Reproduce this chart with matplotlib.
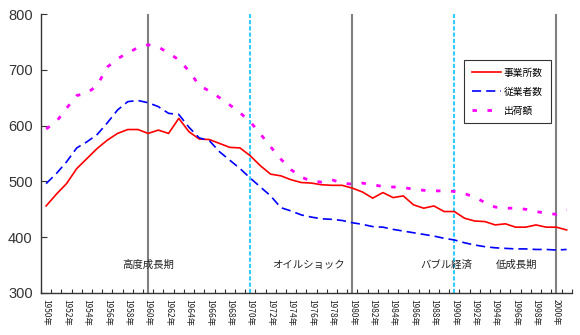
import numpy as np
import matplotlib
matplotlib.use("Agg")
import matplotlib.pyplot as plt
from matplotlib.ticker import FixedLocator, NullFormatter

plt.rcParams['font.family'] = ['Noto Sans CJK JP', 'DejaVu Sans']

# 1950-2001, one value per year
years = list(range(1950, 2002))

establishments = [
    456, 477, 496, 523, 541, 559, 574, 586, 593, 593,
    586, 592, 586, 613, 589, 576, 575, 568, 561, 560,
    546, 528, 513, 510, 503, 498, 497, 494, 493, 493,
    488, 481, 470, 480, 471, 474, 458, 452, 456, 446,
    446, 434, 429, 428, 422, 424, 418, 418, 422, 418,
    418, 413,
]
employees = [
    496, 514, 535, 560, 571, 584, 605, 628, 643, 645,
    641, 634, 622, 620, 597, 578, 573, 553, 538, 523,
    506, 490, 474, 453, 447, 440, 436, 433, 432, 430,
    426, 423, 419, 418, 414, 411, 408, 405, 402, 398,
    395, 390, 386, 383, 381, 380, 379, 379, 378, 378,
    377, 378,
]
shipments = [
    594, 607, 631, 654, 658, 672, 705, 720, 730, 740,
    745, 741, 730, 718, 698, 672, 662, 650, 637, 623,
    607, 585, 562, 540, 521, 508, 500, 499, 503, 497,
    495, 497, 494, 491, 490, 489, 486, 484, 483, 483,
    482, 478, 472, 462, 454, 452, 452, 450, 446, 443,
    441, 449,
]
series_labels = ["事業所数", "従業者数", "出荷額"]

era_years = [1960, 1970, 1980, 1990, 2000]
era_kinds = ["solid", "dashed", "solid", "dashed", "solid"]
era_names = ["高度成長期", "オイルショック", "バブル経済", "低成長期"]
era_label_x = [1960.0, 1975.7, 1989.2, 1996.1]
era_label_y = 350

y_ticks = [300, 400, 500, 600, 700, 800]


def draw_eras(ax):
    for yr, kind in zip(era_years, era_kinds):
        if kind == "solid":
            ax.axvline(yr, color="#808080", lw=1.5, zorder=1)
        else:
            ax.axvline(yr, color="#33CCFF", lw=1.5, ls=(0, (2.0, 1.0)), zorder=1)
    for name, x in zip(era_names, era_label_x):
        ax.text(x, era_label_y, name, ha="center", va="center",
                fontsize=7.5, color="#222222")


def draw_series(ax):
    ax.plot(years, establishments, color="#FF0000", lw=1.2,
            label=series_labels[0], zorder=3)
    ax.plot(years, employees, color="#0000FF", lw=1.2,
            ls=(0, (5.5, 3.0)), label=series_labels[1], zorder=3)
    ax.plot(years, shipments, color="#FF00FF", lw=2.0,
            ls=(0, (1.6, 3.8)), label=series_labels[2], zorder=3)


def style_axes(ax):
    ax.set_xlim(1949.5, 2001.5)
    ax.set_ylim(300, 800)
    ax.set_yticks(y_ticks)
    ax.tick_params(axis="y", direction="in", length=4, width=0.8,
                   labelsize=10.5, colors="#333333", pad=6)
    for lbl in ax.get_yticklabels():
        lbl.set_family(["Liberation Sans", "DejaVu Sans"])

    even_years = [y for y in years if y % 2 == 0]
    ax.xaxis.set_major_locator(FixedLocator(even_years))
    ax.set_xticklabels([f"{y}年" for y in even_years], rotation=270,
                       fontsize=6, color="#222222")
    ax.xaxis.set_minor_locator(FixedLocator(np.arange(1949.5, 2002, 1.0)))
    ax.xaxis.set_minor_formatter(NullFormatter())
    ax.tick_params(axis="x", which="major", length=0, pad=4)
    ax.tick_params(axis="x", which="minor", direction="in", length=3,
                   width=0.8, colors="#333333")

    for side in ["top", "right"]:
        ax.spines[side].set_visible(False)
    for side in ["left", "bottom"]:
        ax.spines[side].set_color("#333333")
        ax.spines[side].set_linewidth(1.0)


def main():
    fig = plt.figure(figsize=(5.8, 3.35), dpi=100)
    ax = fig.add_axes([0.0707, 0.1254, 0.915, 0.8327])

    draw_eras(ax)
    draw_series(ax)
    style_axes(ax)

    leg = ax.legend(loc="upper left", bbox_to_anchor=(0.797, 0.835),
                    fontsize=7, frameon=True, fancybox=False,
                    handlelength=3.0, handletextpad=0.3,
                    labelspacing=0.9, borderpad=0.8, borderaxespad=0)
    leg.get_frame().set_edgecolor("#000000")
    leg.get_frame().set_linewidth(0.8)

    fig.savefig("out.png", dpi=100)


if __name__ == "__main__":
    main()
